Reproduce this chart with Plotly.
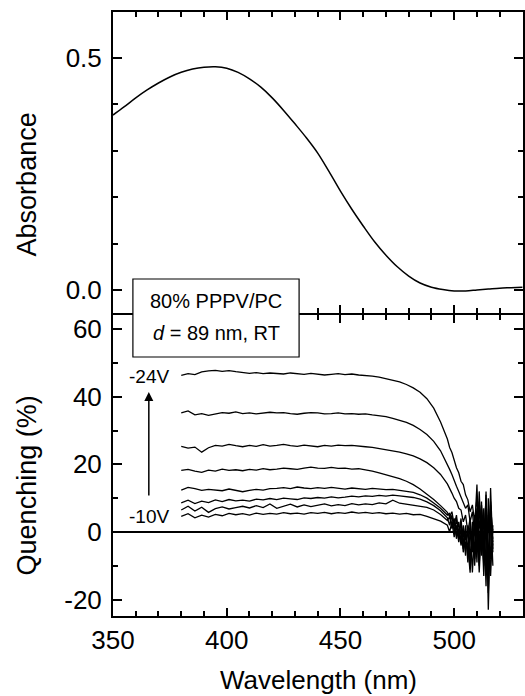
import plotly.graph_objects as go

# ---------------- data ----------------
WL_ABS = [350, 355, 360, 365, 370, 375, 380, 385, 390, 395,
          400, 405, 410, 415, 420, 425, 430, 435, 440, 445,
          450, 455, 460, 465, 470, 475, 480, 485, 490, 495,
          500, 505, 510, 515, 520, 525, 530]
ABSORBANCE = [0.377, 0.395, 0.414, 0.431, 0.446, 0.459, 0.469, 0.476, 0.480, 0.481,
              0.478, 0.469, 0.455, 0.437, 0.414, 0.387, 0.358, 0.328, 0.295, 0.255,
              0.213, 0.174, 0.138, 0.104, 0.075, 0.050, 0.030, 0.015, 0.006, 0.001,
              -0.002, -0.002, 0.000, 0.002, 0.004, 0.005, 0.006]

WL_Q = [380, 383, 386, 389, 392, 395, 398, 401, 404, 407,
        410, 413, 416, 419, 422, 425, 428, 431, 434, 437,
        440, 443, 446, 449, 452, 455, 458, 461, 464, 467,
        470, 473, 476, 479, 482, 485, 488, 491, 494, 497,
        498, 499, 500, 501, 502, 503, 504, 505, 506, 507,
        508, 509, 510, 511, 512, 513, 514, 515, 516, 517]

Q_M24 = [46.3, 46.8, 46.5, 47.3, 47.6, 47.8, 47.5, 47.7, 47.4, 47.2,
         46.9, 47.1, 46.8, 47.0, 46.9, 46.7, 47.0, 46.8, 46.6, 46.9,
         46.7, 46.4, 46.6, 46.8, 46.5, 46.7, 46.4, 46.3, 46.1, 45.8,
         45.4, 45.0, 44.4, 43.6, 42.6, 41.3, 39.4, 36.6, 32.5, 27.5,
         25.0, 23.5, 21.0, 19.0, 17.5, 15.0, 14.0, 11.0, 9.5, 6.0,
         8.0, 3.0, 10.0, 1.0, 7.0, -4.0, 6.0, -9.0, 8.0, -2.0]
Q_M22 = [35.2, 35.8, 34.6, 35.0, 34.5, 34.8, 35.3, 35.1, 35.5, 35.0,
         35.2, 34.9, 35.1, 35.4, 35.2, 35.3, 35.0, 34.8, 35.1, 35.3,
         35.2, 34.9, 35.0, 35.2, 34.9, 35.0, 34.8, 34.9, 34.6, 34.4,
         34.1, 33.6, 33.0, 32.4, 31.5, 30.3, 28.8, 26.8, 24.0, 20.2,
         18.5, 17.0, 15.0, 13.5, 12.0, 10.5, 9.0, 7.0, 8.0, 3.0,
         6.0, -1.0, 7.0, -4.0, 9.0, -7.0, 11.0, -14.0, 6.0, -3.0]
Q_M20 = [25.3, 24.8, 25.1, 23.6, 24.9, 25.6, 25.4, 25.9, 25.5, 25.2,
         25.6, 25.3, 25.8, 25.4, 25.6, 25.9, 25.5, 25.3, 25.7, 25.5,
         25.2, 25.6, 25.4, 25.7, 25.5, 25.6, 25.3, 25.2, 25.0, 24.7,
         24.4, 24.0, 23.6, 23.1, 22.5, 21.6, 20.5, 19.0, 17.0, 14.2,
         13.0, 11.5, 10.0, 9.0, 7.0, 6.5, 3.0, 5.0, 0.0, 4.0,
         -5.0, 3.0, -6.0, 12.0, -3.0, 4.0, -16.0, 10.0, -8.0, 1.0]
Q_M18 = [18.2, 18.5, 18.0, 17.6, 18.3, 18.0, 18.6, 18.2, 18.4, 18.1,
         18.5, 18.3, 18.7, 18.4, 18.6, 18.9, 18.7, 18.5, 18.9, 19.2,
         18.9, 18.8, 19.1, 18.8, 18.9, 18.6, 18.7, 18.4, 18.0, 17.5,
         17.0, 16.4, 15.8, 15.0, 14.0, 12.7, 11.2, 9.6, 7.8, 5.8,
         4.5, 6.0, 2.0, 5.0, -1.0, 4.0, -4.0, 2.0, -7.0, 3.0,
         -12.0, 1.0, 14.0, -6.0, 5.0, -10.0, 12.0, -23.0, 4.0, -5.0]
Q_M16 = [12.4, 13.2, 12.8, 12.3, 12.6, 12.5, 12.2, 12.7, 12.4, 11.9,
         12.3, 12.6, 12.4, 12.8, 12.9, 13.1, 12.8, 13.3, 13.0, 12.8,
         13.1, 12.9, 13.2, 12.9, 12.7, 13.0, 12.8, 12.6, 12.9, 12.7,
         12.5, 12.6, 12.3, 12.1, 11.7, 11.0, 10.0, 8.6, 7.0, 5.0,
         5.5, 2.0, 4.0, -1.0, 3.0, -3.0, 2.0, -5.0, 1.0, -8.0,
         3.0, -6.0, 6.0, -10.0, 8.0, -4.0, 10.0, -12.0, 13.0, -6.0]
Q_M14 = [8.6, 9.4, 8.4, 9.1, 8.7, 9.5, 9.0, 9.6, 9.2, 9.4,
         9.1, 9.7, 9.5, 9.9, 9.6, 10.0, 9.8, 9.6, 10.1, 9.9,
         10.2, 10.0, 10.4, 10.1, 10.3, 10.6, 10.4, 10.7, 10.5, 10.8,
         10.6, 10.9, 10.7, 10.5, 10.2, 9.7, 8.9, 7.8, 6.3, 4.2,
         2.0, 5.0, 0.0, 4.0, -2.0, 3.0, -5.0, 1.0, -9.0, 0.0,
         -6.0, 5.0, -9.0, 9.0, -7.0, 7.0, -11.0, 5.0, -13.0, 2.0]
Q_M12 = [6.5, 7.6, 6.2, 7.3, 5.8, 6.9, 7.4, 6.8, 7.2, 7.6,
         7.1, 7.8, 7.2, 8.3, 7.0, 7.6, 8.2, 7.4, 8.0, 7.5,
         7.9, 8.3, 7.7, 8.1, 7.8, 8.4, 8.0, 8.3, 8.1, 8.6,
         8.3, 9.4, 8.5, 8.2, 8.0, 7.8, 7.3, 6.5, 5.2, 3.4,
         4.5, 1.0, 3.0, -2.0, 1.0, -4.0, 0.0, -7.0, 2.0, -11.0,
         -3.0, -8.0, 4.0, -12.0, 2.0, -9.0, 6.0, -18.0, 9.0, -4.0]
Q_M10 = [4.6, 5.4, 4.2, 5.0, 4.4, 5.2, 4.8, 5.5, 5.1, 5.4,
         5.0, 5.6, 5.2, 5.5, 5.3, 5.7, 5.4, 5.6, 5.3, 5.7,
         5.5, 5.8, 5.4, 5.7, 5.5, 5.9, 5.6, 5.8, 5.5, 5.7,
         5.4, 5.6, 5.3, 5.5, 5.1, 5.2, 4.6, 4.0, 3.2, 2.0,
         0.0, 3.0, -1.5, 2.0, -3.0, 1.0, -6.0, -1.0, -4.0, -12.0,
         0.0, -10.0, 2.0, -7.0, 5.0, -13.0, 3.0, -8.0, 7.0, -10.0]

QUENCH_SERIES = [("-24V", Q_M24), ("-22V", Q_M22), ("-20V", Q_M20), ("-18V", Q_M18),
                 ("-16V", Q_M16), ("-14V", Q_M14), ("-12V", Q_M12), ("-10V", Q_M10)]

ABS_TICKS = [0.0, 0.5]
ABS_TICKTEXT = ["0.0", "0.5"]
Q_TICKS = [-20, 0, 20, 40, 60]
Q_TICKTEXT = ["-20", "0", "20", "40", "60"]
X_TICKS = [350, 400, 450, 500]
X_TICKTEXT = ["350", "400", "450", "500"]

# ---------------- figure ----------------
FONT = "Liberation Sans, Arial, Helvetica, sans-serif"
W, H = 525, 696
ML, MR, MT, MB = 113, 0, 12, 80
PW, PH = W - ML - MR, H - MT - MB


def px(x):
    return (x - ML) / PW


def py(y):
    return (H - MB - y) / PH


fig = go.Figure()
fig.add_trace(go.Scatter(x=WL_ABS, y=ABSORBANCE, mode="lines", line=dict(color="black", width=1.5, shape="spline"),
                         xaxis="x", yaxis="y", showlegend=False))
for name, vals in QUENCH_SERIES:
    fig.add_trace(go.Scatter(x=WL_Q, y=vals, mode="lines", name=name, line=dict(color="black", width=1.3),
                             xaxis="x2", yaxis="y2", showlegend=False))

TICKFONT = dict(family=FONT, size=26, color="black")


def minor(dt, t0):
    return dict(dtick=dt, tick0=t0, ticklen=5, ticks="inside", tickcolor="black", tickwidth=1.5, showgrid=False)


xr = [350, 350 + PW * 180.25 / 412]
TOP_EDGE, BOT_EDGE = 313, 315   # pixel rows where the two panels meet
fig.update_layout(
    width=W, height=H, margin=dict(l=ML, r=MR, t=MT, b=MB),
    plot_bgcolor="white", paper_bgcolor="white",
    font=dict(family=FONT, color="black"),
    xaxis=dict(anchor="y", range=xr, tickmode="array", tickvals=X_TICKS, ticktext=X_TICKTEXT,
               showticklabels=False, ticks="inside", ticklen=8, tickwidth=1.5, tickcolor="black",
               showline=True, linecolor="black", linewidth=2, mirror="ticks", showgrid=False, zeroline=False,
               tickfont=TICKFONT, minor=minor(10, 350)),
    yaxis=dict(anchor="x", domain=[py(TOP_EDGE), 1.0], range=[-(TOP_EDGE - 290) / 464, 0.599],
               tickmode="array", tickvals=ABS_TICKS,
               ticktext=ABS_TICKTEXT, ticks="inside", ticklen=9, tickwidth=1.5, tickcolor="black",
               showline=True, linecolor="black", linewidth=2, mirror="ticks", showgrid=False, zeroline=False,
               tickfont=TICKFONT, ticklabelstandoff=4, minor=minor(0.1, 0)),
    xaxis2=dict(anchor="y2", range=xr, tickmode="array", tickvals=X_TICKS, ticktext=X_TICKTEXT,
                ticks="inside", ticklen=8, tickwidth=1.5, tickcolor="black",
                showline=True, linecolor="black", linewidth=2, mirror="ticks", showgrid=False, zeroline=False,
                tickfont=TICKFONT, minor=minor(10, 350)),
    yaxis2=dict(anchor="x2", domain=[0.0, py(BOT_EDGE)], range=[-24.83, 60 + (329 - BOT_EDGE) / 3.383],
                tickmode="array", tickvals=Q_TICKS,
                ticktext=Q_TICKTEXT, ticks="inside", ticklen=9, tickwidth=1.5, tickcolor="black",
                showline=True, linecolor="black", linewidth=2, mirror="ticks", showgrid=False,
                zeroline=True, zerolinecolor="black", zerolinewidth=2,
                tickfont=TICKFONT, ticklabelstandoff=4, minor=minor(10, 0)),
)

# legend-like box
fig.add_shape(type="rect", xref="paper", yref="paper", x0=px(133), x1=px(300), y0=py(357), y1=py(279),
              line=dict(color="black", width=1.2), fillcolor="white", layer="above")

for txt, yy in [("80% PPPV/PC", 301), ("<i>d</i> = 89 nm, RT", 333)]:
    fig.add_annotation(text=txt, x=px(216.7), y=py(yy), xref="paper", yref="paper", showarrow=False,
                       xanchor="center", yanchor="middle", font=dict(family=FONT, size=20, color="black"))

fig.add_annotation(text="-24V", x=px(171), y=py(376), xref="paper", yref="paper", showarrow=False,
                   xanchor="right", yanchor="middle", font=dict(family=FONT, size=19, color="black"))
fig.add_annotation(text="-10V", x=px(171), y=py(516), xref="paper", yref="paper", showarrow=False,
                   xanchor="right", yanchor="middle", font=dict(family=FONT, size=19, color="black"))
# arrow
fig.add_annotation(text="", x=px(149), y=py(392), xref="paper", yref="paper", showarrow=True,
                   ax=0, ay=105, arrowhead=2, arrowsize=1.2, arrowwidth=1.5, arrowcolor="black")

# axis titles
fig.add_annotation(text="Absorbance", x=px(27), y=py(184), xref="paper", yref="paper", showarrow=False,
                   textangle=-90, xanchor="center", yanchor="middle", font=dict(family=FONT, size=27, color="black"))
fig.add_annotation(text="Quenching (%)", x=px(27), y=py(485), xref="paper", yref="paper", showarrow=False,
                   textangle=-90, xanchor="center", yanchor="middle", font=dict(family=FONT, size=27, color="black"))
fig.add_annotation(text="Wavelength (nm)", x=px(320), y=py(680), xref="paper", yref="paper", showarrow=False,
                   xanchor="center", yanchor="middle", font=dict(family=FONT, size=26, color="black"))

fig.write_html("out.html", config={"displayModeBar": False},
               post_script="document.body.style.margin='0';document.documentElement.style.overflow='hidden';")
